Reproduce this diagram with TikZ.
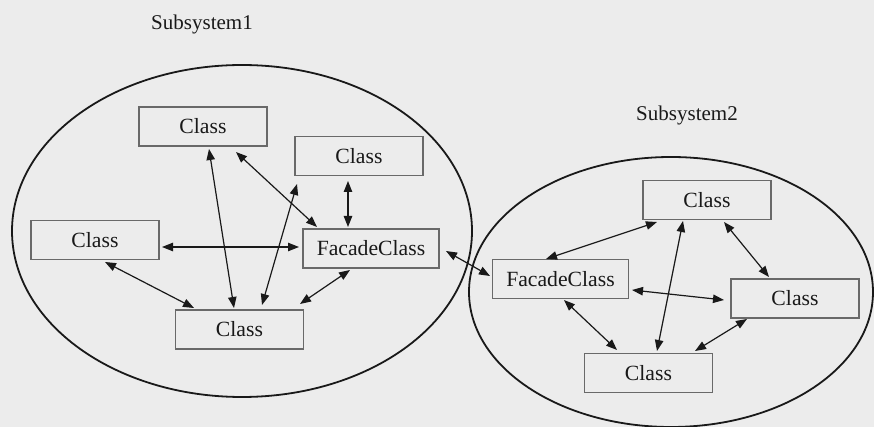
\documentclass[tikz,border=0pt]{standalone}
\usepackage{fontspec}
\setmainfont{Liberation Serif}
\usetikzlibrary{arrows.meta}
\definecolor{bgcol}{RGB}{236,236,236}
\definecolor{inkcol}{RGB}{25,25,25}
\definecolor{boxcol}{RGB}{105,105,105}
\begin{document}
\begin{tikzpicture}[x=0.5pt,y=-0.5pt,
  classbox/.style={draw=boxcol, line width=0.55pt, rectangle, inner sep=0pt,
    minimum width=64pt, minimum height=19.5pt, text=inkcol,
    font=\fontsize{10.85}{13}\selectfont},
  widebox/.style={classbox, minimum width=68pt},
  sublabel/.style={text=inkcol, font=\fontsize{10.5}{13}\selectfont, inner sep=0pt},
  link/.style={draw=inkcol, line width=0.6pt,
    {Triangle[length=5.5pt,width=4.2pt]}-{Triangle[length=5.5pt,width=4.2pt]}},
  subsys/.style={draw=inkcol, line width=0.9pt}]
\fill[bgcol] (0,0) rectangle (874,427);
\useasboundingbox (0,0) rectangle (874,427);

% subsystem outlines
\draw[subsys] (242,231) ellipse [x radius=115pt, y radius=83pt];
\draw[subsys] (671,292) ellipse [x radius=101pt, y radius=67.5pt];

\node[sublabel] (s1) at (202,24) {Subsystem1};
\node[sublabel] (s2) at (687,115) {Subsystem2};

% subsystem 1
\node[classbox] (t1) at (203,126.5) {Class};
\node[classbox] (t2) at (359,156) {Class};
\node[classbox] (l1) at (95,240) {Class};
\node[widebox]  (f1) at (371,248.5) {FacadeClass};
\node[classbox] (b1) at (239.5,329.5) {Class};

% subsystem 2
\node[classbox] (t3) at (707,200) {Class};
\node[widebox]  (f2) at (560.5,279) {FacadeClass};
\node[classbox] (r2) at (795,298.5) {Class};
\node[classbox] (b2) at (648.5,373) {Class};

% links in subsystem 1
\draw[link] ([shift={(6,22.5)}]t1.center) -- ([shift={(-5.5,-21.5)}]b1.center);
\draw[link] ([shift={(33,25.5)}]t1.center) -- ([shift={(-54,-21.5)}]f1.center);
\draw[link] ([shift={(-62,28)}]t2.center) -- ([shift={(22.5,-24.5)}]b1.center);
\draw[link] ([shift={(-11,25)}]t2.center) -- ([shift={(-23,-21.5)}]f1.center);
\draw[link] ([shift={(67,7)}]l1.center) -- ([shift={(-72,-1.5)}]f1.center);
\draw[link] ([shift={(10,22)}]l1.center) -- ([shift={(-45.5,-21.5)}]b1.center);
\draw[link] ([shift={(-21,21.5)}]f1.center) -- ([shift={(60.5,-25.5)}]b1.center);

% link between facades
\draw[link] ([shift={(75,2.5)}]f1.center) -- ([shift={(-70.5,-3)}]f2.center);

% links in subsystem 2
\draw[link] ([shift={(-50,22)}]t3.center) -- ([shift={(-14.5,-20)}]f2.center);
\draw[link] ([shift={(-24,21)}]t3.center) -- ([shift={(8.5,-22)}]b2.center);
\draw[link] ([shift={(17,22)}]t3.center) -- ([shift={(-26,-21.5)}]r2.center);
\draw[link] ([shift={(71.5,11)}]f2.center) -- ([shift={(-71,1.5)}]r2.center);
\draw[link] ([shift={(3.5,21)}]f2.center) -- ([shift={(-31.5,-23)}]b2.center);
\draw[link] ([shift={(-48,20.5)}]r2.center) -- ([shift={(46.5,-22)}]b2.center);
\end{tikzpicture}
\end{document}
